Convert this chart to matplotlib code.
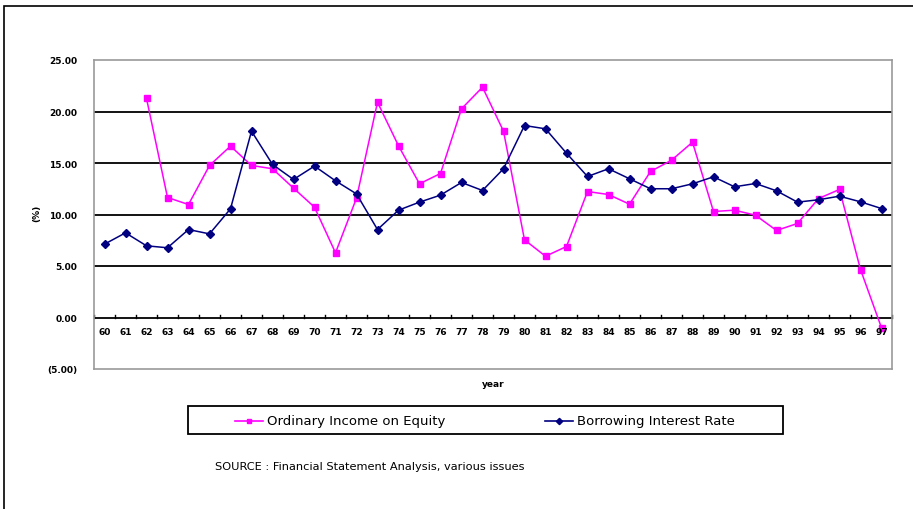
import matplotlib
matplotlib.use("Agg")
import matplotlib.pyplot as plt
from matplotlib.patches import Rectangle
from matplotlib.lines import Line2D

years = [str(y) for y in range(60, 98)]

income_on_equity = [None, None, 21.27, 11.65, 10.97, 14.76, 16.64, 14.76, 14.44, 12.56,
                    10.71, 6.28, 11.59, 20.90, 16.67, 12.98, 13.98, 20.26, 22.36, 18.09,
                    7.54, 5.95, 6.89, 12.23, 11.94, 11.00, 14.18, 15.27, 17.02, 10.29,
                    10.42, 9.93, 8.45, 9.13, 11.55, 12.43, 4.66, -1.00]

borrowing_rate = [7.12, 8.22, 6.96, 6.77, 8.54, 8.12, 10.55, 18.09, 14.86, 13.40,
                  14.70, 13.27, 12.00, 8.54, 10.42, 11.20, 11.88, 13.11, 12.33, 14.44,
                  18.64, 18.32, 15.95, 13.69, 14.44, 13.47, 12.50, 12.50, 12.98, 13.66,
                  12.69, 13.01, 12.30, 11.20, 11.43, 11.78, 11.23, 10.58]

y_ticks = [-5, 0, 5, 10, 15, 20, 25]
y_ticklabels = ["(5.00)", "0.00", "5.00", "10.00", "15.00", "20.00", "25.00"]

series_names = ["Ordinary Income on Equity", "Borrowing Interest Rate"]
pink = "#FF00FF"
navy = "#000080"

W, H = 913, 510
fig = plt.figure(figsize=(W / 100, H / 100), dpi=100)
fig.patch.set_facecolor("white")

def fx(px):
    return px / W

def fy(py):
    return 1 - py / H

# outer frame
fig.add_artist(Rectangle((fx(4), -0.05), 1.2, fy(7) + 0.05, transform=fig.transFigure,
                         fill=False, edgecolor="black", linewidth=1.2))

ax = fig.add_axes([fx(94), fy(370), (892 - 94) / W, (370 - 61) / H])
x = list(range(len(years)))

ax.set_xlim(-0.5, len(years) - 0.5)
ax.set_ylim(-5, 25)

for v in [0, 5, 10, 15, 20]:
    ax.axhline(v, color="black", linewidth=1.3, zorder=1)

ix = [i for i, v in enumerate(income_on_equity) if v is not None]
iv = [income_on_equity[i] for i in ix]
ax.plot(ix, iv, color=pink, linewidth=1.1, marker="s", markersize=4.5,
        markeredgecolor=pink, markerfacecolor=pink, zorder=3, clip_on=False)
ax.plot(x, borrowing_rate, color=navy, linewidth=1.1, marker="D", markersize=4.5,
        markeredgecolor=navy, markerfacecolor=navy, zorder=4, clip_on=False)

for s in ax.spines.values():
    s.set_color("#999999")
    s.set_linewidth(1.2)

ax.set_yticks(y_ticks)
ax.set_yticklabels(y_ticklabels, fontsize=6.5, fontweight="bold")
ax.tick_params(axis="y", length=0, pad=12)

ax.set_xticks([])
# category ticks on the zero line and labels below it
for i in range(len(years) + 1):
    ax.plot([i - 0.5, i - 0.5], [0, 0.25], color="black", linewidth=1.0, zorder=2, clip_on=False)
for i, lab in enumerate(years):
    ax.text(i, -1.4, lab, ha="center", va="center", fontsize=6.5, fontweight="bold")

fig.text(fx(37), fy(213), "(%)", rotation=90, ha="center", va="center",
         fontsize=6.5, fontweight="bold")
fig.text(fx(493), fy(385), "year", ha="center", va="center", fontsize=6.5, fontweight="bold")

# legend box
fig.add_artist(Rectangle((fx(188), fy(435)), (783 - 188) / W, (435 - 407) / H,
                         transform=fig.transFigure, fill=False, edgecolor="black",
                         linewidth=1.3))
leg_y = fy(422)
fig.add_artist(Line2D([fx(235), fx(263)], [leg_y, leg_y], transform=fig.transFigure,
                      color=pink, linewidth=1.2))
fig.add_artist(Line2D([fx(249)], [leg_y], transform=fig.transFigure, color=pink,
                      marker="s", markersize=3.5, linestyle="none"))
fig.text(fx(267), leg_y, series_names[0], ha="left", va="center", fontsize=9.5)
fig.add_artist(Line2D([fx(545), fx(573)], [leg_y, leg_y], transform=fig.transFigure,
                      color=navy, linewidth=1.2))
fig.add_artist(Line2D([fx(559)], [leg_y], transform=fig.transFigure, color=navy,
                      marker="D", markersize=3.2, linestyle="none"))
fig.text(fx(577), leg_y, series_names[1], ha="left", va="center", fontsize=9.5)

fig.text(fx(215), fy(467), "SOURCE : Financial Statement Analysis, various issues",
         ha="left", va="center", fontsize=8.2)

fig.savefig("out.png", dpi=100, facecolor="white")
